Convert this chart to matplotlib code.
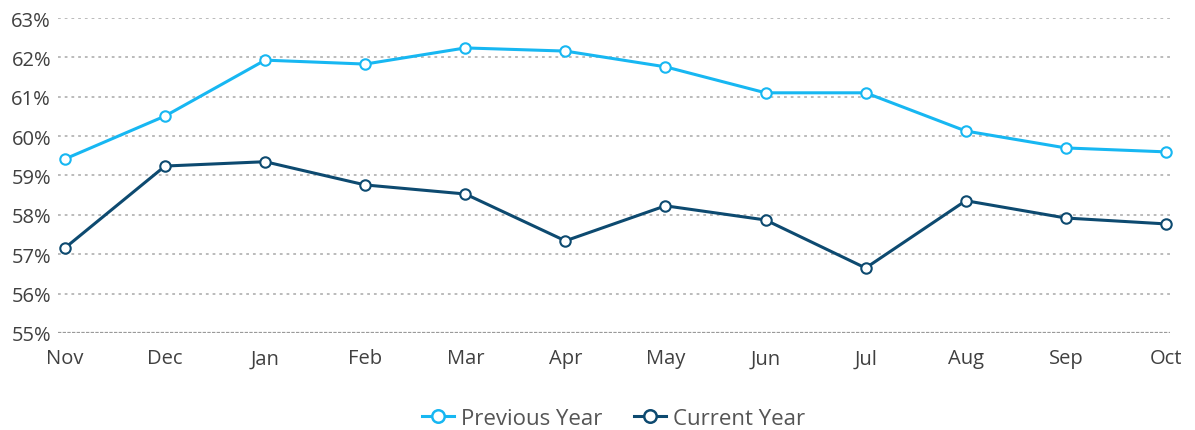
import matplotlib
matplotlib.use("Agg")
import matplotlib.pyplot as plt
from matplotlib.lines import Line2D

months = ["Nov", "Dec", "Jan", "Feb", "Mar", "Apr", "May", "Jun", "Jul", "Aug", "Sep", "Oct"]
previous_year = [59.42, 60.51, 61.93, 61.83, 62.24, 62.16, 61.76, 61.10, 61.10, 60.13, 59.70, 59.60]
current_year = [57.16, 59.24, 59.35, 58.76, 58.53, 57.34, 58.23, 57.87, 56.65, 58.36, 57.92, 57.77]
y_ticks = [55, 56, 57, 58, 59, 60, 61, 62, 63]

prev_color = "#17b7f2"
curr_color = "#0d4a70"
text_color = "#404040"

plt.rcParams["font.family"] = ["Open Sans", "DejaVu Sans"]

fig = plt.figure(figsize=(11.95, 4.31), dpi=100)
ax = fig.add_axes([0.0485, 0.2251, 0.9305, 0.7308])

x = list(range(len(months)))
ax.plot(x, previous_year, color=prev_color, lw=2.2, marker="o", ms=7.5,
        mfc="white", mec=prev_color, mew=1.5, zorder=3, clip_on=False)
ax.plot(x, current_year, color=curr_color, lw=2.2, marker="o", ms=7.5,
        mfc="white", mec=curr_color, mew=1.5, zorder=3, clip_on=False)

ax.set_xlim(-0.07, 11.04)
ax.set_ylim(55, 63)
ax.set_yticks(y_ticks)
ax.set_yticklabels([f"{t}%" for t in y_ticks])
ax.set_xticks(x)
ax.set_xticklabels(months)

for t in y_ticks[1:]:
    ax.axhline(t, color="#a8a8a8", lw=1.1, ls=(0, (1.8, 2.6)), zorder=1)
ax.axhline(55, color="#9a9a9a", lw=1.6, ls=(0, (1.5, 0.6)), zorder=1)

for s in ax.spines.values():
    s.set_visible(False)
ax.tick_params(axis="both", length=0, labelsize=14.5, colors=text_color)
ax.tick_params(axis="y", pad=5)
ax.tick_params(axis="x", pad=11)

handles = [
    Line2D([0], [0], color=prev_color, lw=2.2, marker="o", ms=9, mfc="white", mec=prev_color, mew=1.8),
    Line2D([0], [0], color=curr_color, lw=2.2, marker="o", ms=9, mfc="white", mec=curr_color, mew=1.8),
]
fig.legend(handles, ["Previous Year", "Current Year"], loc="center", bbox_to_anchor=(0.5134, 0.027),
           ncol=2, frameon=False, fontsize=16, handlelength=1.45, columnspacing=1.45,
           handletextpad=0.28, labelcolor="#555555")

fig.savefig("out.png", dpi=100)
